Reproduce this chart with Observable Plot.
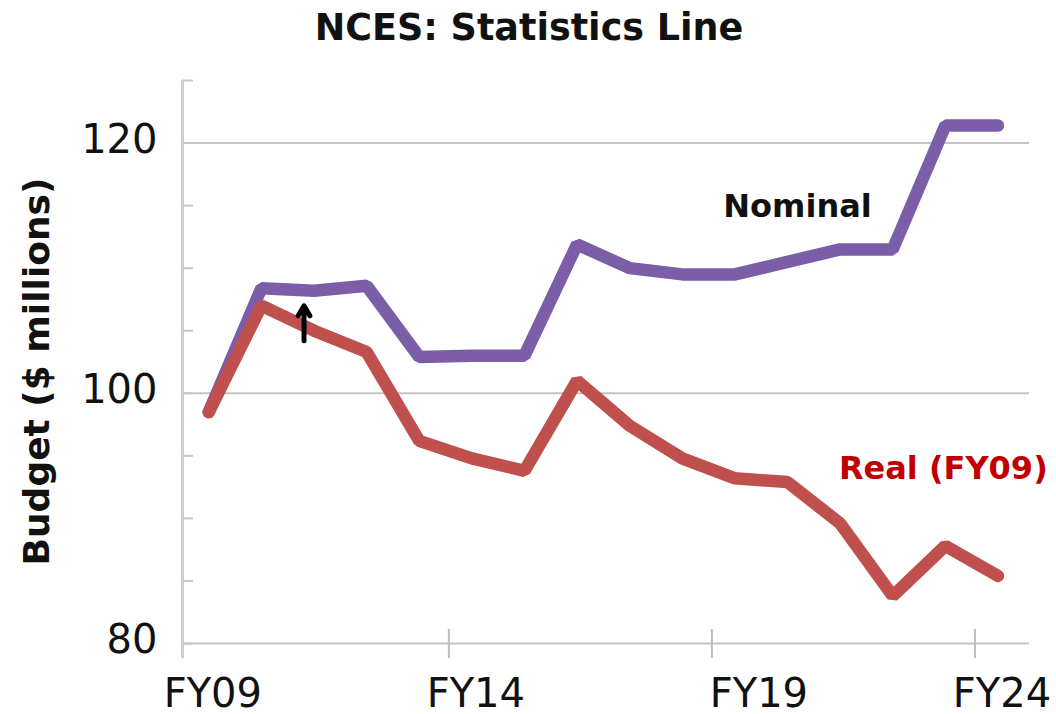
<!DOCTYPE html>
<html><head><meta charset="utf-8">
<script src="https://cdn.jsdelivr.net/npm/d3@7"></script>
<script src="https://cdn.jsdelivr.net/npm/@observablehq/plot@0.6"></script>
<style>
html,body{margin:0;padding:0;background:#fff;overflow:hidden;width:1056px;height:714px}
#title{font-family:"DejaVu Sans",sans-serif;font-weight:bold;font-size:36.5px;height:56px;line-height:56px;text-align:center;color:#111;width:1058px}
#chart svg{display:block;overflow:visible}
</style></head><body>
<div id="title">NCES: Statistics Line</div>
<div id="chart"></div>
<script>
// ---- data ----
const years = [2009, 2010, 2011, 2012, 2013, 2014, 2015, 2016, 2017, 2018, 2019, 2020, 2021, 2022, 2023, 2024];
const nominal = [98.5, 108.4, 108.2, 108.6, 102.9, 103.0, 103.0, 111.9, 110.0, 109.5, 109.5, 110.5, 111.5, 111.5, 121.4, 121.4];
const real = [98.5, 107.0, 105.0, 103.3, 96.2, 94.8, 93.8, 101.0, 97.4, 94.8, 93.2, 92.9, 89.6, 83.8, 87.8, 85.4];
const seriesNames = ["Nominal", "Real (FY09)"];
const xLabelYears = [2009, 2014, 2024];
const xLabelYearsShifted = [2019];
const xTickYears = [2014, 2019, 2024];
const yTickValues = [80, 85, 90, 95, 100, 105, 110, 115, 120, 125];
const yLabelValues = [80, 100, 120];
const gridValues = [80, 100, 120];
const arrowNote = [{year: 2011, from: 104.2, to: 107.0}];
const yTitle = "Budget ($ millions)";

const rows = [];
years.forEach((yr, i) => {
  rows.push({year: yr, value: nominal[i], series: seriesNames[0]});
  rows.push({year: yr, value: real[i], series: seriesNames[1]});
});
const nomRows = rows.filter(d => d.series === seriesNames[0]);
const realRows = rows.filter(d => d.series === seriesNames[1]);

const purple = "#7b5ea7", red = "#c0504d";
const font = "DejaVu Sans, sans-serif";
const fyFormat = d => "FY" + String(d).slice(2);

const chart = Plot.plot({
  width: 1056,
  height: 658,
  marginTop: 24,
  marginBottom: 56,
  marginLeft: 182,
  marginRight: 27,
  style: {fontFamily: font, color: "#111", background: "#fff"},
  x: {domain: [2008.5, 2024.6]},
  y: {domain: [78.8, 125]},
  marks: [
    Plot.ruleY(gridValues, {stroke: "#c4c4c4", strokeWidth: 2, strokeOpacity: 1}),
    Plot.ruleX([2008.5], {stroke: "#cfcfcf", strokeWidth: 3}),
    Plot.axisY({ticks: yTickValues, tickSize: -11, tickFormat: () => "", stroke: "#c8c8c8", strokeWidth: 2, strokeOpacity: 1, label: null}),
    Plot.axisY({ticks: yLabelValues, tickSize: 0, tickPadding: 25, fontSize: 40, dy: -3, label: null, fill: "#111"}),
    Plot.axisX({ticks: xTickYears, tickSize: -29, dx: -23, tickFormat: () => "", stroke: "#bdbdbd", strokeWidth: 2, strokeOpacity: 1, label: null}),
    Plot.axisX({ticks: xLabelYears, tickSize: 0, tickPadding: 20, fontSize: 40, dx: 4, label: null, fill: "#111", tickFormat: fyFormat}),
    Plot.axisX({ticks: xLabelYearsShifted, tickSize: 0, tickPadding: 20, fontSize: 40, dx: 24, label: null, fill: "#111", tickFormat: fyFormat}),
    Plot.line(nomRows, {x: "year", y: "value", stroke: purple, strokeWidth: 12.5, strokeLinecap: "round", strokeLinejoin: "miter"}),
    Plot.line(realRows, {x: "year", y: "value", stroke: red, strokeWidth: 12.5, strokeLinecap: "round", strokeLinejoin: "miter"}),
    Plot.arrow(arrowNote, {x: "year", y1: "from", y2: "to", dx: -10, stroke: "#000", strokeWidth: 5, headLength: 14, headAngle: 60}),
    Plot.text(nomRows.filter(d => d.year === 2020), {x: "year", y: "value", text: d => d.series, dx: 10, dy: -55, fontSize: 32, fontWeight: "bold", fill: "#111"}),
    Plot.text(realRows.filter(d => d.year === 2023), {x: "year", y: "value", text: d => d.series, dx: -2, dy: -77, fontSize: 32, fontWeight: "bold", fill: "#c00000"}),
    Plot.text([yTitle], {frameAnchor: "left", textAnchor: "middle", text: d => d, rotate: -90, dx: -145, dy: 2, fontSize: 36, fontWeight: "bold", fill: "#111"})
  ]
});
document.getElementById("chart").appendChild(chart);
</script>
</body></html>
